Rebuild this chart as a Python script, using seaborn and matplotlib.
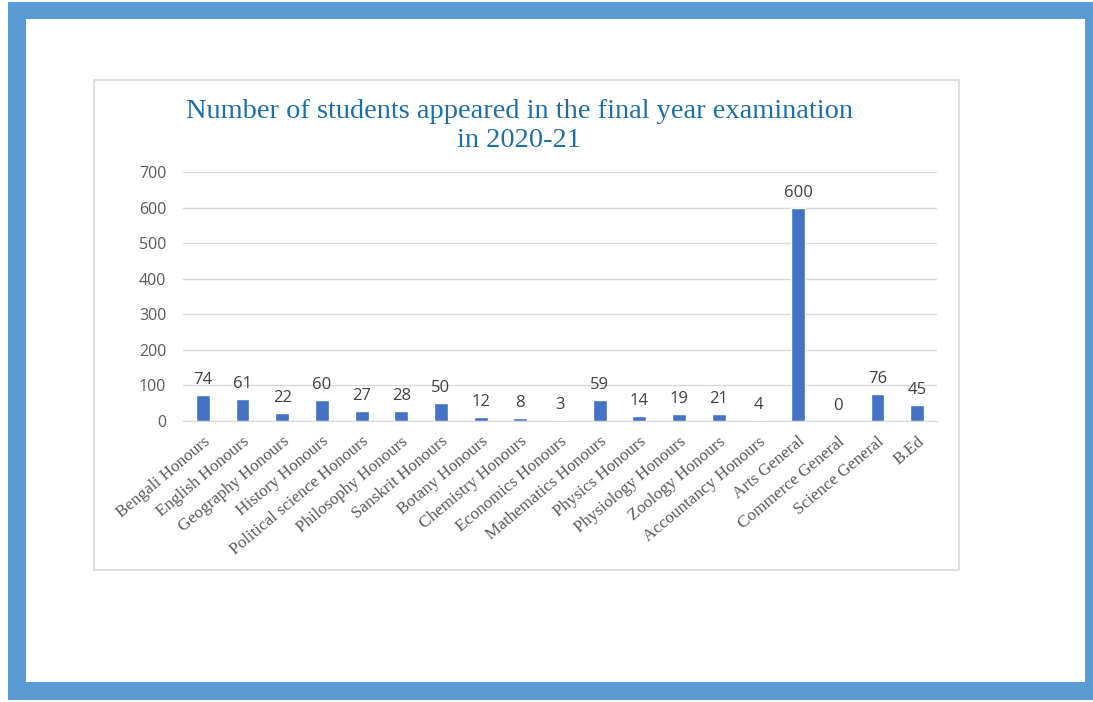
import matplotlib
matplotlib.use("Agg")
import matplotlib.pyplot as plt
import seaborn as sns
import pandas as pd
from matplotlib.patches import Rectangle

# categories and counts
courses = ["Bengali Honours", "English Honours", "Geography Honours", "History Honours",
           "Political science Honours", "Philosophy Honours", "Sanskrit Honours",
           "Botany Honours", "Chemistry Honours", "Economics Honours",
           "Mathematics Honours", "Physics Honours", "Physiology Honours",
           "Zoology Honours", "Accountancy Honours", "Arts General",
           "Commerce General", "Science General", "B.Ed"]
students = [74, 61, 22, 60, 27, 28, 50, 12, 8, 3, 59, 14, 19, 21, 4, 600, 0, 76, 45]
yticks = [0, 100, 200, 300, 400, 500, 600, 700]

df = pd.DataFrame({"course": courses, "students": students})

sns.set_style("white")
W, H = 1093, 702
fig = plt.figure(figsize=(W / 100, H / 100), dpi=100)
fig.patch.set_facecolor("white")

# blue frame round the page
fig.patches.append(Rectangle((8 / W, 2 / H), 1085 / W, 698 / H, transform=fig.transFigure,
                             facecolor="#5B9BD5", edgecolor="none", zorder=-10))
fig.patches.append(Rectangle((26 / W, 20 / H), 1059 / W, 663 / H, transform=fig.transFigure,
                             facecolor="white", edgecolor="none", zorder=-9))
# chart area box
fig.patches.append(Rectangle((94 / W, 132 / H), 865 / W, 490 / H, transform=fig.transFigure,
                             facecolor="white", edgecolor="#D9D9D9", lw=1.2, zorder=-8))

ax = fig.add_axes([183 / W, 281 / H, 754 / W, 249 / H])
ax.set_facecolor("none")
sns.barplot(data=df, x="course", y="students", color="#4472C4", width=0.35,
            saturation=1, ax=ax)

ax.set_ylim(0, 700)
ax.set_yticks(yticks)
ax.set_yticklabels([str(v) for v in yticks], fontsize=11.5, color="#595959",
                   family="Open Sans")
ax.tick_params(axis="y", length=0, pad=12)
ax.tick_params(axis="x", length=0, pad=9)
ax.yaxis.grid(True, color="#D9D9D9", lw=1)
ax.set_axisbelow(True)
for s in ["top", "right", "left"]:
    ax.spines[s].set_visible(False)
ax.spines["bottom"].set_color("#D9D9D9")
ax.set_xlabel("")
ax.set_ylabel("")

ax.set_xticks(range(len(courses)))
ax.set_xticklabels(courses, rotation=40, ha="right", rotation_mode="anchor",
                   fontsize=12.3, color="#595959", family="Liberation Serif")

ax.bar_label(ax.containers[0], labels=[str(v) for v in students], padding=5,
             fontsize=12, color="#404040", family="Open Sans")

fig.text(519 / W, 1 - 126 / H,
         "Number of students appeared in the final year examination\nin 2020-21",
         ha="center", va="center", multialignment="center", fontsize=20.4,
         color="#1F6FA5", family="Liberation Serif", linespacing=1.2)

fig.savefig("out.png", dpi=100)
